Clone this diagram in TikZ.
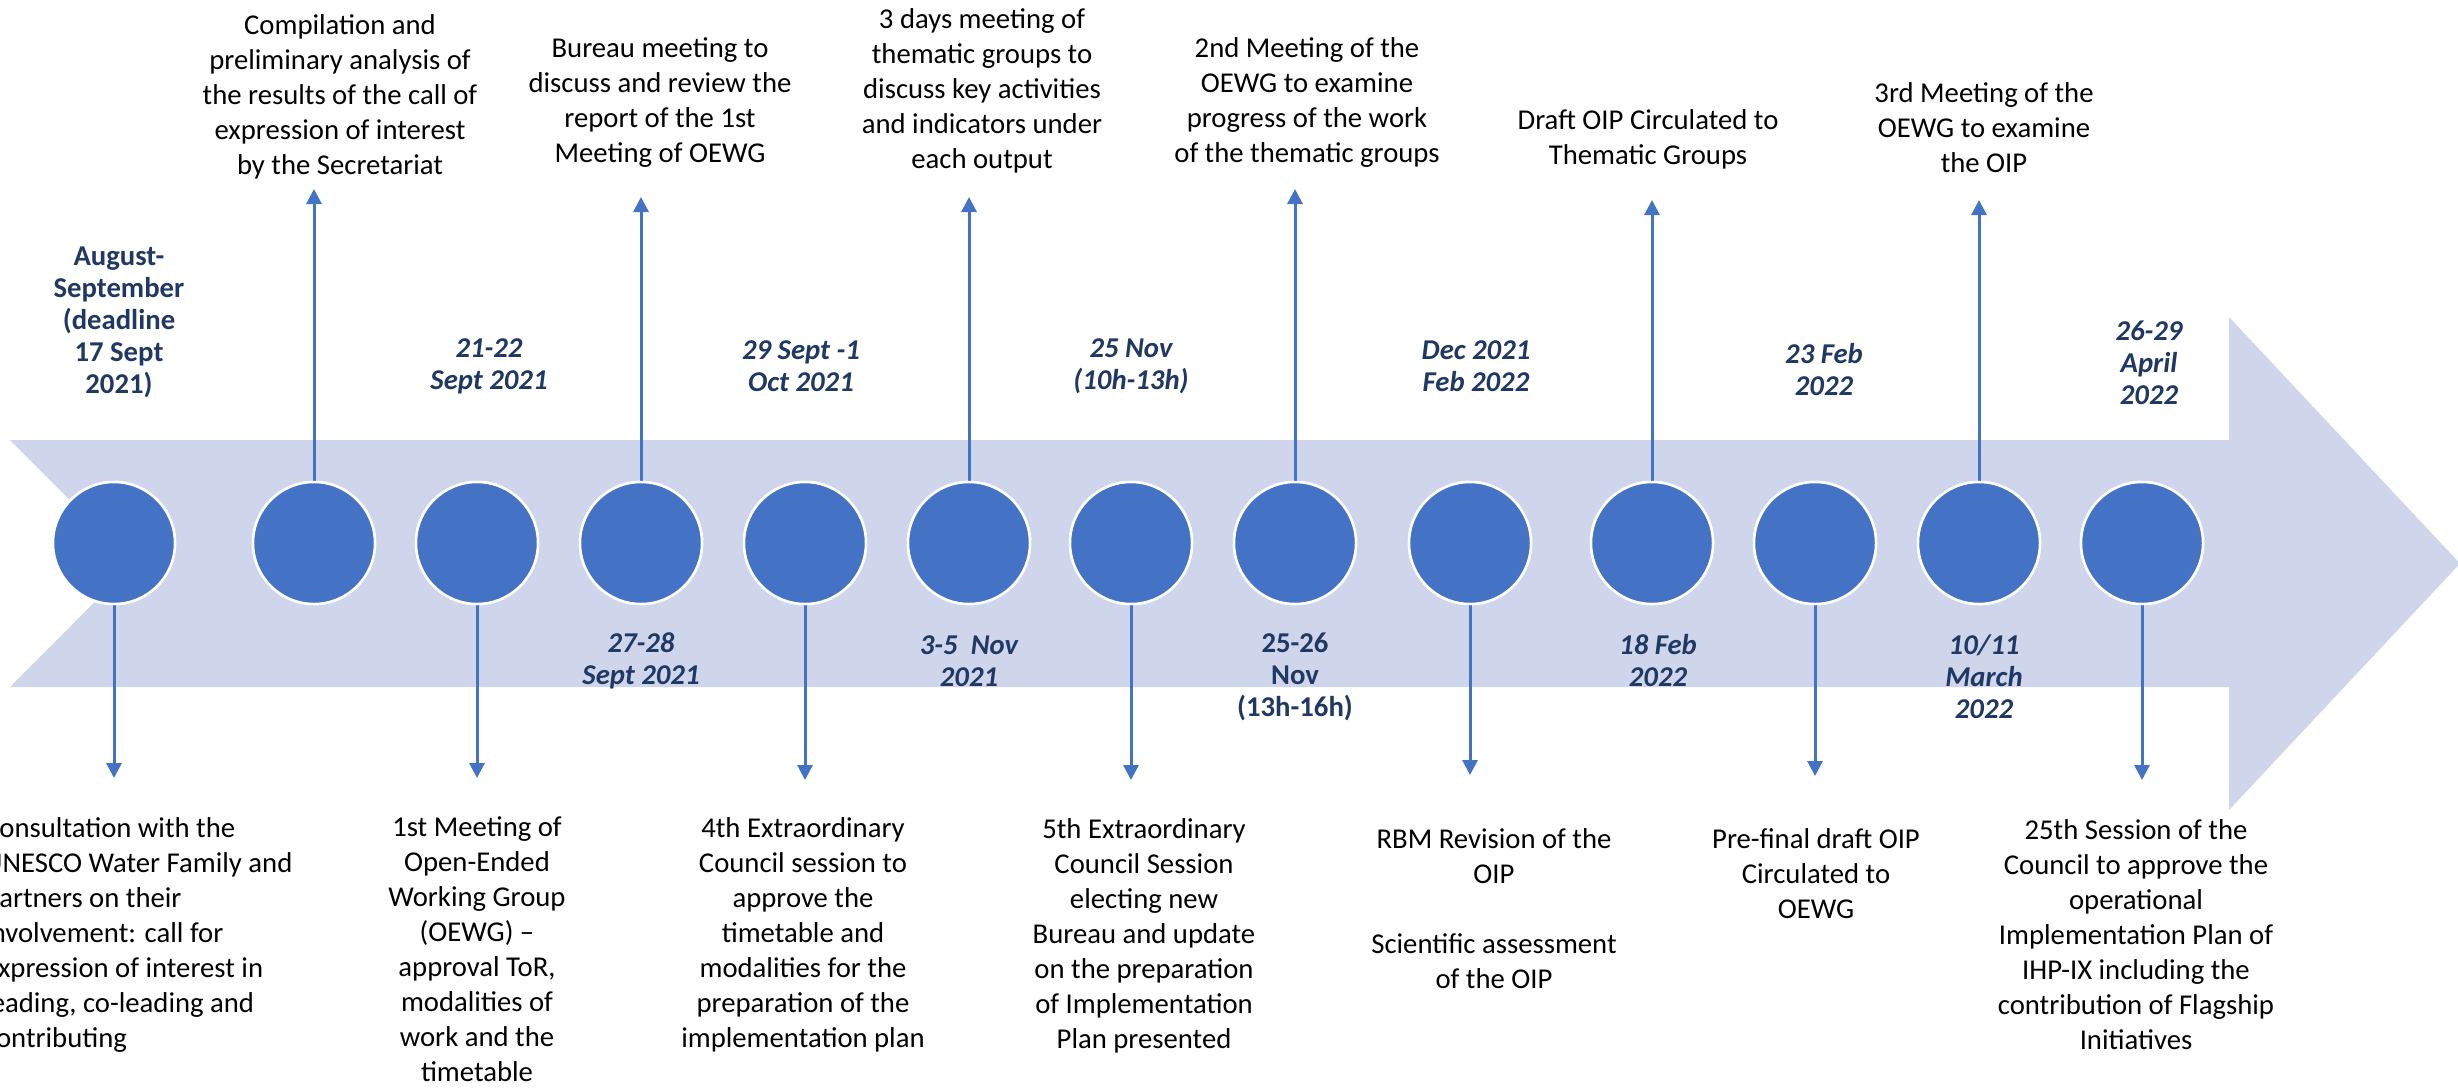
\documentclass[tikz,border=0pt]{standalone}
\usepackage{fontspec}
\setmainfont{Carlito}
\usetikzlibrary{arrows.meta}
\definecolor{bandc}{HTML}{CFD5EA}
\definecolor{dotc}{HTML}{4472C4}
\definecolor{datec}{HTML}{1F3864}
\tikzset{
  desc/.style={align=center, font=\fontsize{28.7}{35}\selectfont, inner sep=0pt, text=black},
  datelbl/.style={align=center, font=\fontsize{28.7}{32}\selectfont\bfseries\itshape, text=datec, inner sep=0pt},
  dateup/.style={align=center, font=\fontsize{28.7}{32}\selectfont\bfseries, text=datec, inner sep=0pt},
  evt/.style={circle, fill=dotc, draw=white, line width=2.5pt, minimum size=122pt, inner sep=0pt},
  conn/.style={draw=dotc, line width=3pt, -{Triangle[length=15pt,width=15pt]}},
}
\begin{document}
\begin{tikzpicture}[x=1pt,y=-1pt]
\useasboundingbox (0,0) rectangle (2458,1088);
\clip (0,0) rectangle (2458,1088);
% band arrow
\path[fill=bandc] (10,440) -- (2229,440) -- (2229,317) -- (2460,563.5) -- (2229,810) -- (2229,687) -- (10,687) -- (133,563.5) -- cycle;
% arrow tips
\coordinate (t1) at (114,778);
\coordinate (t2) at (314,189);
\coordinate (t3) at (477,778);
\coordinate (t4) at (641,197);
\coordinate (t5) at (805,780);
\coordinate (t6) at (969,197);
\coordinate (t7) at (1131,780);
\coordinate (t8) at (1295,189);
\coordinate (t9) at (1470,775);
\coordinate (t10) at (1652,200);
\coordinate (t11) at (1815,776);
\coordinate (t12) at (1979,200);
\coordinate (t13) at (2142,780);
% circles
\foreach \i/\x in {1/114,2/314,3/477,4/641,5/805,6/969,7/1131,8/1295,9/1470,10/1652,11/1815,12/1979,13/2142}
  \node[evt] (c\i) at (\x,543) {};
% connectors
\foreach \i in {1,3,5,7,9,11,13}
  \draw[conn] (c\i.south) -- (t\i);
\foreach \i in {2,4,6,8,10,12}
  \draw[conn] (c\i.north) -- (t\i);
% redraw circles on top of connectors
\foreach \i/\x in {1/114,2/314,3/477,4/641,5/805,6/969,7/1131,8/1295,9/1470,10/1652,11/1815,12/1979,13/2142}
  \node[evt] at (\x,543) {};
% top descriptions
\node[desc] (d2) at (340,97) {Compilation and\\preliminary analysis of\\the results of the call of\\expression of interest\\by the Secretariat};
\node[desc] (d4) at (660,102.5) {Bureau meeting to\\discuss and review the\\report of the 1st\\Meeting of OEWG};
\node[desc] (d6) at (982,91) {3 days meeting of\\thematic groups to\\discuss key activities\\and indicators under\\each output};
\node[desc] (d8) at (1307,102.5) {2nd Meeting of the\\OEWG to examine\\progress of the work\\of the thematic groups};
\node[desc] (d10) at (1648,139.5) {Draft OIP Circulated to\\Thematic Groups};
\node[desc] (d12) at (1984,127.5) {3rd Meeting of the\\OEWG to examine\\the OIP};
% bottom descriptions
\node[desc, align=left, anchor=west] (d1) at (-16,935) {Consultation with the\\UNESCO Water Family and\\partners on their\\involvement: call for\\expression of interest in\\leading, co-leading and\\contributing};
\node[desc] (d3) at (477,949) {1st Meeting of\\Open-Ended\\Working Group\\(OEWG) –\\approval ToR,\\modalities of\\work and the\\timetable};
\node[desc] (d5) at (803,935) {4th Extraordinary\\Council session to\\approve the\\timetable and\\modalities for the\\preparation of the\\implementation plan};
\node[desc] (d7) at (1144,936) {5th Extraordinary\\Council Session\\electing new\\Bureau and update\\on the preparation\\of Implementation\\Plan presented};
\node[desc] (d9) at (1494,909) {RBM Revision of the\\OIP\\[35pt]Scientific assessment\\of the OIP};
\node[desc] (d11) at (1816,873.5) {Pre-final draft OIP\\Circulated to\\OEWG};
\node[desc] (d13) at (2136,935) {25th Session of the\\Council to approve the\\operational\\Implementation Plan of\\IHP-IX including the\\contribution of Flagship\\Initiatives};
% dates above band
\node[dateup] (w1) at (119,322.5) {August-\\September\\(deadline\\17 Sept\\2021)};
\node[datelbl] (w3) at (489,366) {21-22\\Sept 2021};
\node[datelbl] (w5) at (801,366) {29 Sept -1\\Oct 2021};
\node[datelbl] (w7) at (1131,366) {25 Nov\\(10h-13h)};
\node[datelbl] (w9) at (1476,366) {Dec 2021\\Feb 2022};
\node[datelbl] (w11) at (1824,370) {23 Feb\\2022};
\node[datelbl] (w13) at (2149,362.5) {26-29\\April\\2022};
% dates below band
\node[datelbl] (w4) at (641,661) {27-28\\Sept 2021};
\node[datelbl] (w6) at (969,661) {3-5~ Nov\\2021};
\node[dateup] (w8) at (1295,677) {25-26\\Nov\\(13h-16h)};
\node[datelbl] (w10) at (1658,661) {18 Feb\\2022};
\node[datelbl] (w12) at (1984,676.5) {10/11\\March\\2022};
\end{tikzpicture}
\end{document}
